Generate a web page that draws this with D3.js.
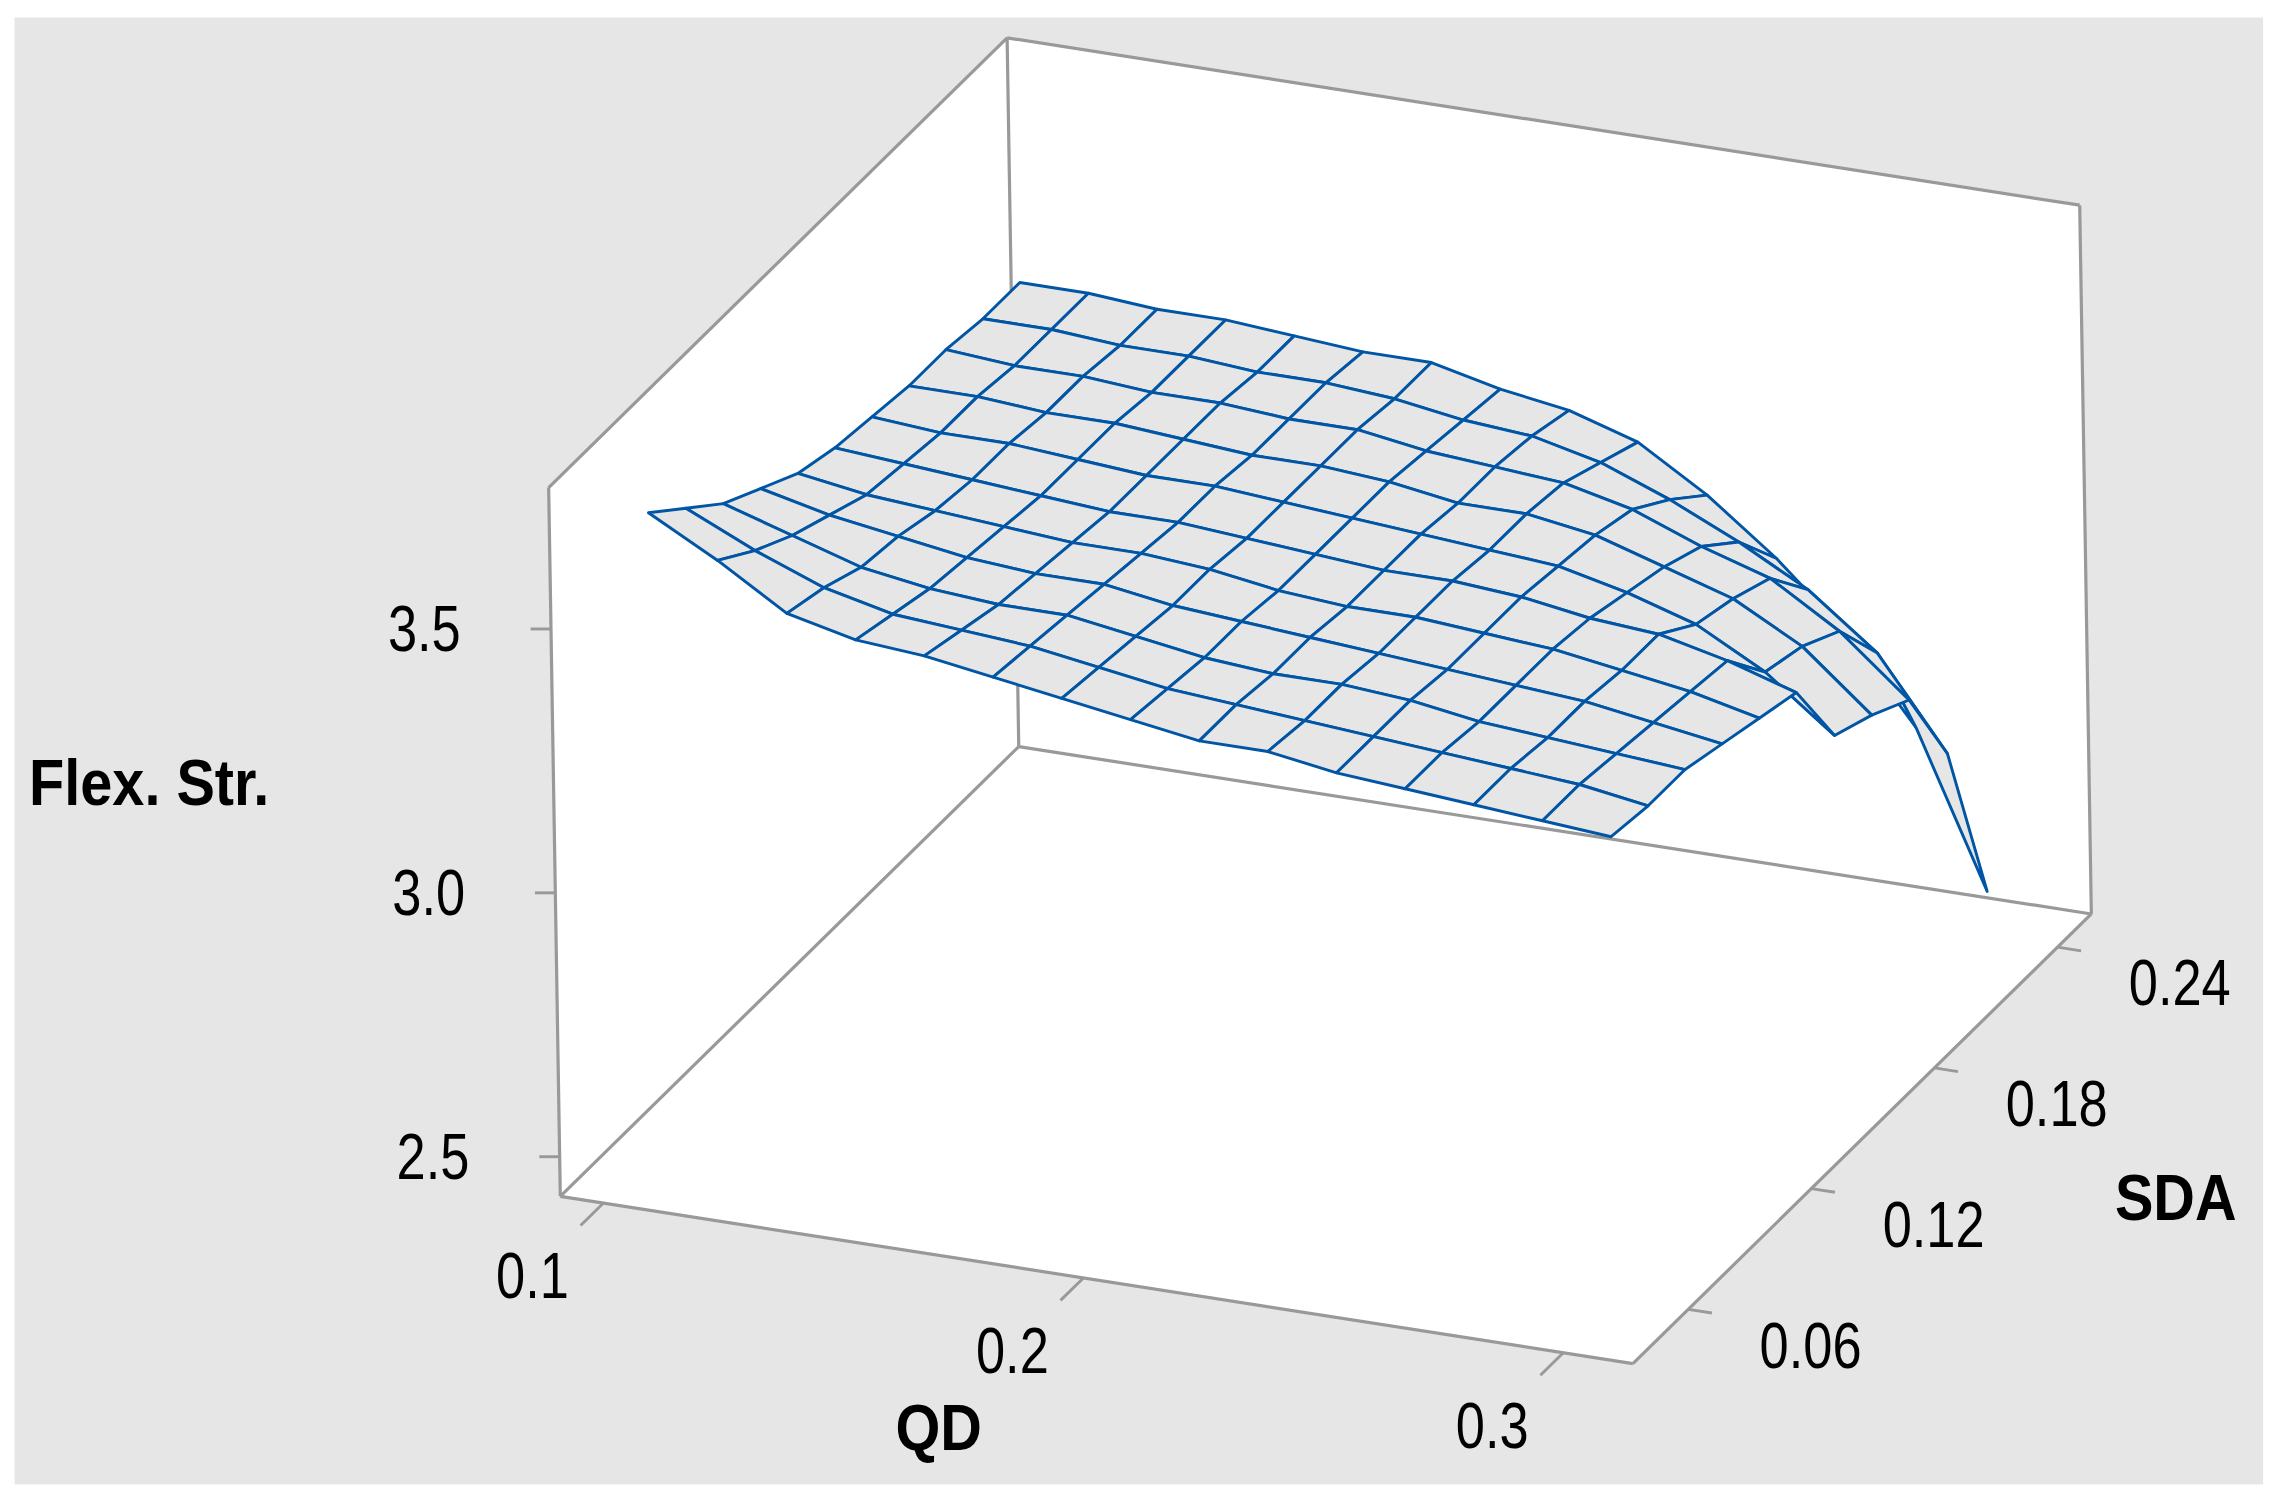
<!DOCTYPE html>
<html><head><meta charset="utf-8">
<script src="https://cdn.jsdelivr.net/npm/d3@7"></script>
<style>html,body{margin:0;padding:0;background:#fff;}</style>
</head><body>
<svg id="chart" width="2282" height="1502"></svg>
<script>
// ---- data ----
const qdValues = [0.1,0.11429,0.12857,0.14286,0.15714,0.17143,0.18571,0.2,0.21429,0.22857,0.24286,0.25714,0.27143,0.28571,0.3];
const sdaValues = [0.06,0.078,0.096,0.114,0.132,0.15,0.168,0.186,0.204,0.222,0.24];
// flexStrength[j][i] : row j = SDA value, column i = QD value
const flexStrength = [
[3.63,3.56,3.48,3.45,3.44,3.42,3.40,3.38,3.36,3.36,3.34,3.33,3.32,3.31,3.30],
[3.57,3.51,3.46,3.43,3.42,3.41,3.39,3.37,3.36,3.35,3.34,3.33,3.32,3.31,3.29],
[3.51,3.47,3.43,3.41,3.40,3.40,3.38,3.36,3.35,3.35,3.34,3.32,3.31,3.30,3.29],
[3.47,3.44,3.42,3.40,3.39,3.39,3.37,3.36,3.35,3.34,3.33,3.32,3.31,3.29,3.27],
[3.43,3.41,3.40,3.39,3.38,3.38,3.37,3.35,3.34,3.34,3.33,3.32,3.30,3.28,3.25],
[3.41,3.40,3.39,3.38,3.37,3.37,3.36,3.35,3.34,3.34,3.33,3.31,3.30,3.27,3.23],
[3.40,3.39,3.39,3.38,3.37,3.37,3.36,3.35,3.34,3.33,3.32,3.29,3.25,3.18,3.08],
[3.39,3.39,3.38,3.38,3.37,3.36,3.36,3.35,3.33,3.33,3.31,3.27,3.23,3.16,3.05],
[3.39,3.38,3.38,3.37,3.37,3.36,3.36,3.34,3.33,3.32,3.29,3.24,3.20,3.12,3.01],
[3.38,3.38,3.37,3.37,3.36,3.36,3.35,3.33,3.32,3.29,3.24,3.18,3.11,3.01,2.84],
[3.38,3.38,3.37,3.37,3.36,3.35,3.35,3.32,3.30,3.26,3.18,3.08,2.96,2.80,2.51]
];
const zTicks = [2.5,3.0,3.5];
const qdTicks = [0.1,0.2,0.3];
const sdaTicks = [0.06,0.12,0.18,0.24];
const zTickLabels = ["2.5","3.0","3.5"];
const qdTickLabels = ["0.1","0.2","0.3"];
const sdaTickLabels = ["0.06","0.12","0.18","0.24"];

// ---- scales / projection ----
const K = 2282/1568;
const uS = d3.scaleLinear().domain([0.091,0.3145]).range([0,1]);
const vS = d3.scaleLinear().domain([0.033,0.2565]).range([0,1]);
const wS = d3.scaleLinear().domain([2.425,3.768]).range([0,1]);
const O=[385,822], A=[737,115], B=[315,-309], C=[-8,-487];
function P(u,v,w){return [O[0]+A[0]*u+B[0]*v+C[0]*w, O[1]+A[1]*u+B[1]*v+C[1]*w];}
function pt(q,s,z){return P(uS(q),vS(s),wS(z));}

const svg = d3.select("#chart");
svg.append("rect").attr("width",2282).attr("height",1502).attr("fill","#fff");
const g = svg.append("g").attr("transform",`scale(${K})`);
g.append("rect").attr("x",10).attr("y",12).attr("width",1545).attr("height",1008).attr("fill","#e6e6e6");

const line = d3.line();
g.append("path").attr("d", line([P(0,0,1),P(0,1,1),P(1,1,1),P(1,1,0),P(1,0,0),P(0,0,0)])+"Z").attr("fill","#fff");
const boxEdges = [
 [P(0,0,0),P(1,0,0)],[P(1,0,0),P(1,1,0)],[P(0,0,0),P(0,1,0)],[P(0,1,0),P(1,1,0)],
 [P(0,0,0),P(0,0,1)],[P(0,1,0),P(0,1,1)],[P(1,1,0),P(1,1,1)],
 [P(0,0,1),P(0,1,1)],[P(0,1,1),P(1,1,1)]
];
g.selectAll(".box").data(boxEdges).join("path").attr("d",d=>line(d))
 .attr("stroke","#999").attr("stroke-width",2.2).attr("fill","none");

const tf="'Liberation Sans',Arial,sans-serif";
function label(x,y,txt,anchor,bold){
  g.append("text").attr("transform",`translate(${x},${y}) scale(${bold?0.9:0.8},1)`)
   .attr("text-anchor",anchor).attr("font-family",tf).attr("font-size",bold?44:45)
   .attr("font-weight",bold?"bold":"normal").attr("fill","#000").text(txt);
}
const gray="#999";
zTicks.forEach((z,k)=>{
  const p=P(0,0,wS(z));
  g.append("line").attr("x1",p[0]-14).attr("y1",p[1]).attr("x2",p[0]).attr("y2",p[1]).attr("stroke",gray).attr("stroke-width",2);
  label(p[0]-62,p[1]+15,zTickLabels[k],"end",false);
});
qdTicks.forEach((q,k)=>{
  const p=P(uS(q),0,0);
  g.append("line").attr("x1",p[0]).attr("y1",p[1]).attr("x2",p[0]-0.05*B[0]).attr("y2",p[1]-0.05*B[1]).attr("stroke",gray).attr("stroke-width",2);
  label(p[0]-0.155*B[0],p[1]-0.16*B[1]+16,qdTickLabels[k],"middle",false);
});
sdaTicks.forEach((s,k)=>{
  const p=P(1,vS(s),0);
  g.append("line").attr("x1",p[0]).attr("y1",p[1]).attr("x2",p[0]+0.022*A[0]).attr("y2",p[1]+0.022*A[1]).attr("stroke",gray).attr("stroke-width",2);
  label(p[0]+84,p[1]+40,sdaTickLabels[k],"middle",false);
});
label(20,553,"Flex. Str.","start",true);
label(645,996,"QD","middle",true);
label(1495,838,"SDA","middle",true);

// surface cells, painter's order (far first)
const cells=[];
for(let j=0;j<sdaValues.length-1;j++){
  for(let i=0;i<qdValues.length-1;i++){
    const c=[[i,j],[i+1,j],[i+1,j+1],[i,j+1]];
    const poly=c.map(([a,b])=>pt(qdValues[a],sdaValues[b],flexStrength[b][a]));
    const depth=vS(sdaValues[j]+0.009)-0.6*uS(qdValues[i]+0.007);
    cells.push({poly,depth});
  }
}
cells.sort((a,b)=>b.depth-a.depth);
g.selectAll(".cell").data(cells).join("path").attr("d",d=>line(d.poly)+"Z")
 .attr("fill","#e6e6e6").attr("stroke","#0055a5").attr("stroke-width",2).attr("stroke-linejoin","round");
</script>
</body></html>
